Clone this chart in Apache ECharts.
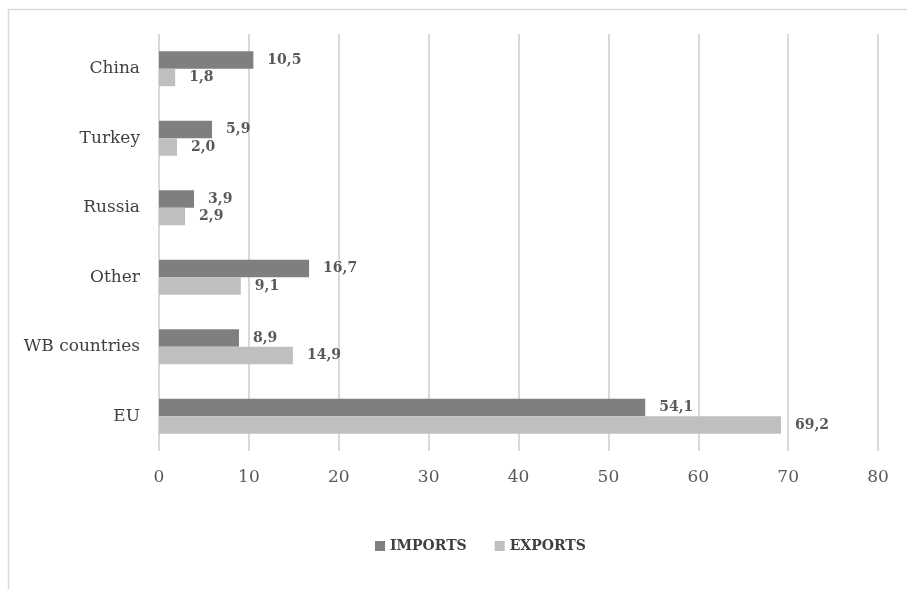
<!DOCTYPE html>
<html>
<head>
<meta charset="utf-8">
<script src="https://cdn.jsdelivr.net/npm/echarts@6/dist/echarts.min.js"></script>
<style>html,body{margin:0;padding:0;background:#fff}#c{width:907px;height:589px}</style>
</head>
<body>
<div id="c"></div>
<script>
const categories = ['EU', 'WB countries', 'Other', 'Russia', 'Turkey', 'China'];
const imports = [54.1, 8.9, 16.7, 3.9, 5.9, 10.5];
const exports = [69.2, 14.9, 9.1, 2.9, 2.0, 1.8];
const xTicks = [0, 10, 20, 30, 40, 50, 60, 70, 80];

const FONT = 'DejaVu Serif';
const chart = echarts.init(document.getElementById('c'));
const lbl = {
  show: true, position: 'right', distance: 14,
  fontFamily: FONT, fontWeight: 'bold', fontSize: 14, color: '#595959',
  formatter: p => p.value.toFixed(1).replace('.', ',')
};
chart.setOption({
  animation: false,
  backgroundColor: '#fff',
  graphic: [{
    type: 'rect', shape: {x: 8.5, y: 9.5, width: 1000, height: 1000},
    style: {fill: 'none', stroke: '#d9d9d9', lineWidth: 1.5}, silent: true
  }],
  grid: {left: 159, right: 29, top: 34, bottom: 138},
  legend: {
    data: ['IMPORTS', 'EXPORTS'], bottom: 31, left: 370,
    itemWidth: 10, itemHeight: 10, itemGap: 28, icon: 'rect',
    textStyle: {fontFamily: FONT, fontWeight: 'bold', fontSize: 14, color: '#404040'}
  },
  xAxis: {
    type: 'value', min: xTicks[0], max: xTicks[xTicks.length - 1], interval: 10,
    axisLine: {show: false}, axisTick: {show: false},
    splitLine: {lineStyle: {color: '#d9d9d9', width: 2}},
    axisLabel: {fontFamily: FONT, fontSize: 17, color: '#595959', margin: 18}
  },
  yAxis: {
    type: 'category', data: categories,
    axisLine: {show: false}, axisTick: {show: false},
    axisLabel: {fontFamily: FONT, fontSize: 17, color: '#404040', margin: 19}
  },
  series: [
    {name: 'IMPORTS', type: 'bar', data: imports, itemStyle: {color: '#7f7f7f'},
     barWidth: 17.5, barGap: '0%', label: lbl},
    {name: 'EXPORTS', type: 'bar', data: exports, itemStyle: {color: '#bfbfbf'},
     barWidth: 17.5, barGap: '0%', label: lbl}
  ]
});
</script>
</body>
</html>
